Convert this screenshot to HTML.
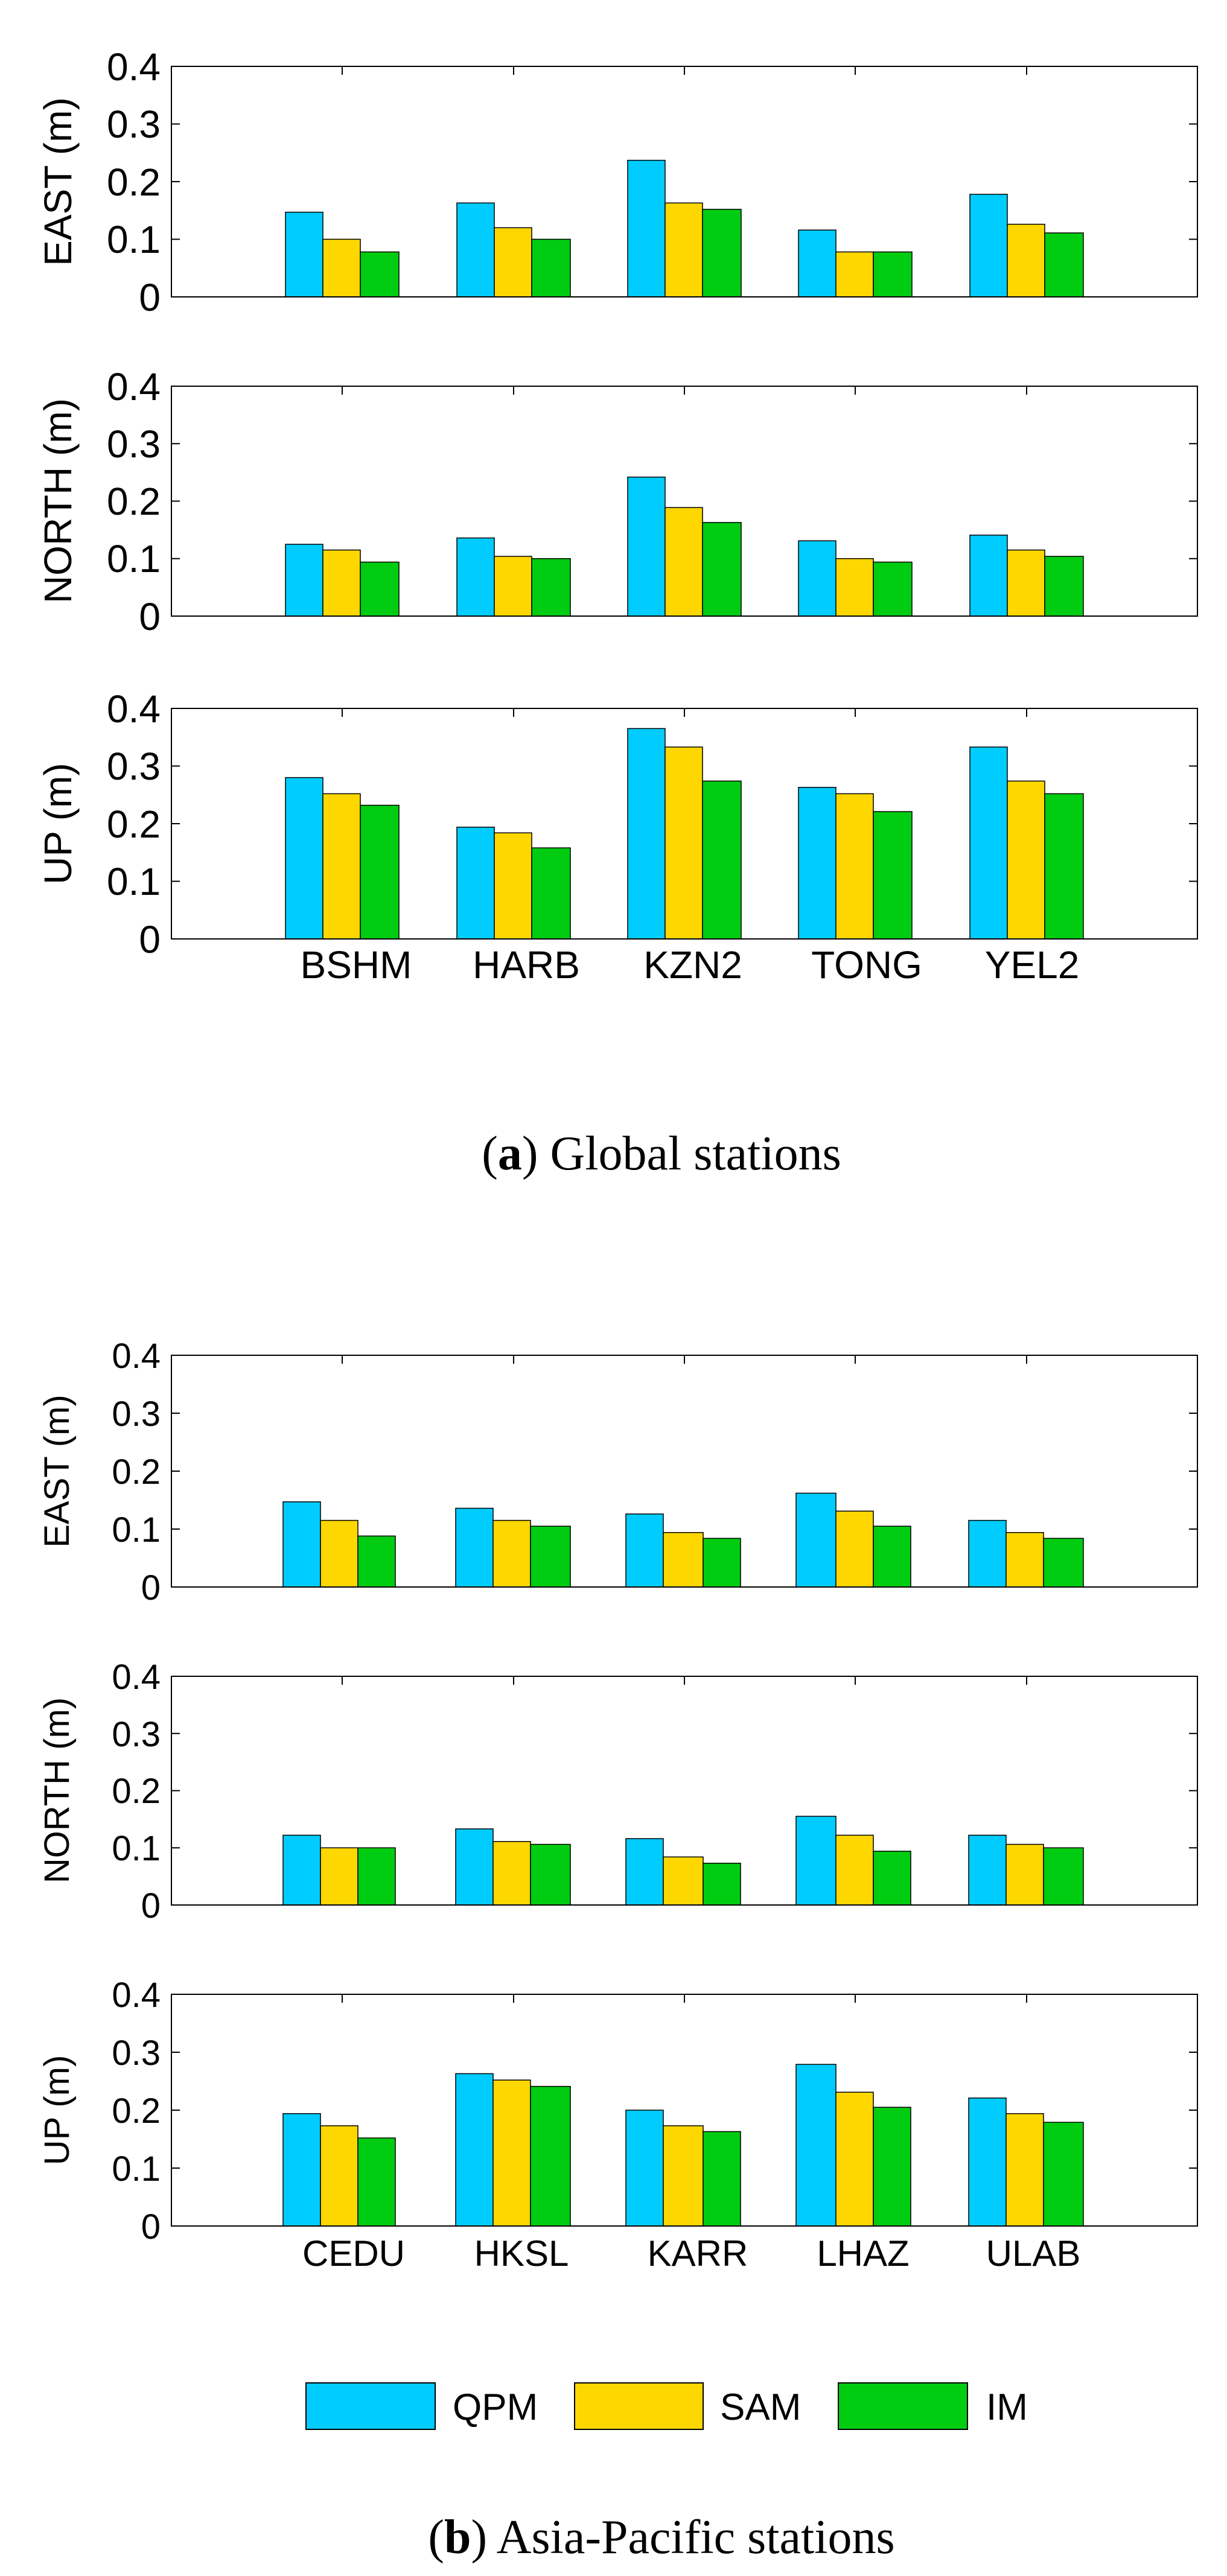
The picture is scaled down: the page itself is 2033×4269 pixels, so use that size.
<!DOCTYPE html>
<html><head><meta charset="utf-8"><style>
html,body{margin:0;padding:0;background:#fff;}
svg{display:block;}
text{font-family:"Liberation Sans",sans-serif;fill:#000;}
.s{font-family:"Liberation Serif",serif;}
rect.b{stroke:#000;stroke-width:1.5;}
.q{fill:#00CCFF}.y{fill:#FFD700}.g{fill:#00CC11}
</style></head><body>
<svg width="2033" height="4269" viewBox="0 0 2033 4269" xmlns="http://www.w3.org/2000/svg">
<defs>
<g id="ax">
<!-- frame and ticks drawn relative to top=0, height=H via separate groups -->
</g>
</defs>

<!-- ===== Panel a1 EAST ===== -->
<g>
<g transform="translate(0,492) scale(1,-955)">
<rect class="b q" vector-effect="non-scaling-stroke" x="473" y="0" width="62" height="0.147"/>
<rect class="b y" vector-effect="non-scaling-stroke" x="535" y="0" width="62" height="0.100"/>
<rect class="b g" vector-effect="non-scaling-stroke" x="597" y="0" width="64" height="0.078"/>
<rect class="b q" vector-effect="non-scaling-stroke" x="757" y="0" width="62" height="0.163"/>
<rect class="b y" vector-effect="non-scaling-stroke" x="819" y="0" width="62" height="0.120"/>
<rect class="b g" vector-effect="non-scaling-stroke" x="881" y="0" width="64" height="0.100"/>
<rect class="b q" vector-effect="non-scaling-stroke" x="1040" y="0" width="62" height="0.237"/>
<rect class="b y" vector-effect="non-scaling-stroke" x="1102" y="0" width="62" height="0.163"/>
<rect class="b g" vector-effect="non-scaling-stroke" x="1164" y="0" width="64" height="0.152"/>
<rect class="b q" vector-effect="non-scaling-stroke" x="1323" y="0" width="62" height="0.116"/>
<rect class="b y" vector-effect="non-scaling-stroke" x="1385" y="0" width="62" height="0.078"/>
<rect class="b g" vector-effect="non-scaling-stroke" x="1447" y="0" width="64" height="0.078"/>
<rect class="b q" vector-effect="non-scaling-stroke" x="1607" y="0" width="62" height="0.178"/>
<rect class="b y" vector-effect="non-scaling-stroke" x="1669" y="0" width="62" height="0.126"/>
<rect class="b g" vector-effect="non-scaling-stroke" x="1731" y="0" width="64" height="0.111"/>
</g>
<rect x="284" y="110" width="1700" height="382" fill="none" stroke="#000" stroke-width="2"/>
<path d="M284 396.5h14M284 301h14M284 205.5h14M1984 396.5h-14M1984 301h-14M1984 205.5h-14M567 110v14M851 110v14M1134 110v14M1417 110v14M1701 110v14" stroke="#000" stroke-width="2"/>
<g font-size="64" text-anchor="end">
<text x="266" y="515">0</text><text x="266" y="419">0.1</text><text x="266" y="324">0.2</text><text x="266" y="228">0.3</text><text x="266" y="133">0.4</text>
</g>
<text font-size="64" text-anchor="middle" transform="translate(118,301) rotate(-90)">EAST (m)</text>
</g>

<!-- ===== Panel a2 NORTH ===== -->
<g>
<g transform="translate(0,1021) scale(1,-952)">
<rect class="b q" vector-effect="non-scaling-stroke" x="473" y="0" width="62" height="0.125"/>
<rect class="b y" vector-effect="non-scaling-stroke" x="535" y="0" width="62" height="0.115"/>
<rect class="b g" vector-effect="non-scaling-stroke" x="597" y="0" width="64" height="0.094"/>
<rect class="b q" vector-effect="non-scaling-stroke" x="757" y="0" width="62" height="0.136"/>
<rect class="b y" vector-effect="non-scaling-stroke" x="819" y="0" width="62" height="0.104"/>
<rect class="b g" vector-effect="non-scaling-stroke" x="881" y="0" width="64" height="0.100"/>
<rect class="b q" vector-effect="non-scaling-stroke" x="1040" y="0" width="62" height="0.242"/>
<rect class="b y" vector-effect="non-scaling-stroke" x="1102" y="0" width="62" height="0.189"/>
<rect class="b g" vector-effect="non-scaling-stroke" x="1164" y="0" width="64" height="0.163"/>
<rect class="b q" vector-effect="non-scaling-stroke" x="1323" y="0" width="62" height="0.131"/>
<rect class="b y" vector-effect="non-scaling-stroke" x="1385" y="0" width="62" height="0.100"/>
<rect class="b g" vector-effect="non-scaling-stroke" x="1447" y="0" width="64" height="0.094"/>
<rect class="b q" vector-effect="non-scaling-stroke" x="1607" y="0" width="62" height="0.141"/>
<rect class="b y" vector-effect="non-scaling-stroke" x="1669" y="0" width="62" height="0.115"/>
<rect class="b g" vector-effect="non-scaling-stroke" x="1731" y="0" width="64" height="0.104"/>
</g>
<rect x="284" y="640" width="1700" height="381" fill="none" stroke="#000" stroke-width="2"/>
<path d="M284 925.75h14M284 830.5h14M284 735.25h14M1984 925.75h-14M1984 830.5h-14M1984 735.25h-14M567 640v14M851 640v14M1134 640v14M1417 640v14M1701 640v14" stroke="#000" stroke-width="2"/>
<g font-size="64" text-anchor="end">
<text x="266" y="1044">0</text><text x="266" y="948">0.1</text><text x="266" y="853">0.2</text><text x="266" y="758">0.3</text><text x="266" y="663">0.4</text>
</g>
<text font-size="64" text-anchor="middle" transform="translate(118,830) rotate(-90)">NORTH (m)</text>
</g>

<!-- ===== Panel a3 UP ===== -->
<g>
<g transform="translate(0,1556) scale(1,-955)">
<rect class="b q" vector-effect="non-scaling-stroke" x="473" y="0" width="62" height="0.280"/>
<rect class="b y" vector-effect="non-scaling-stroke" x="535" y="0" width="62" height="0.252"/>
<rect class="b g" vector-effect="non-scaling-stroke" x="597" y="0" width="64" height="0.232"/>
<rect class="b q" vector-effect="non-scaling-stroke" x="757" y="0" width="62" height="0.194"/>
<rect class="b y" vector-effect="non-scaling-stroke" x="819" y="0" width="62" height="0.184"/>
<rect class="b g" vector-effect="non-scaling-stroke" x="881" y="0" width="64" height="0.158"/>
<rect class="b q" vector-effect="non-scaling-stroke" x="1040" y="0" width="62" height="0.365"/>
<rect class="b y" vector-effect="non-scaling-stroke" x="1102" y="0" width="62" height="0.333"/>
<rect class="b g" vector-effect="non-scaling-stroke" x="1164" y="0" width="64" height="0.274"/>
<rect class="b q" vector-effect="non-scaling-stroke" x="1323" y="0" width="62" height="0.263"/>
<rect class="b y" vector-effect="non-scaling-stroke" x="1385" y="0" width="62" height="0.252"/>
<rect class="b g" vector-effect="non-scaling-stroke" x="1447" y="0" width="64" height="0.221"/>
<rect class="b q" vector-effect="non-scaling-stroke" x="1607" y="0" width="62" height="0.333"/>
<rect class="b y" vector-effect="non-scaling-stroke" x="1669" y="0" width="62" height="0.274"/>
<rect class="b g" vector-effect="non-scaling-stroke" x="1731" y="0" width="64" height="0.252"/>
</g>
<rect x="284" y="1174" width="1700" height="382" fill="none" stroke="#000" stroke-width="2"/>
<path d="M284 1460.5h14M284 1365h14M284 1269.5h14M1984 1460.5h-14M1984 1365h-14M1984 1269.5h-14M567 1174v14M851 1174v14M1134 1174v14M1417 1174v14M1701 1174v14" stroke="#000" stroke-width="2"/>
<g font-size="64" text-anchor="end">
<text x="266" y="1579">0</text><text x="266" y="1483">0.1</text><text x="266" y="1388">0.2</text><text x="266" y="1292">0.3</text><text x="266" y="1197">0.4</text>
</g>
<text font-size="64" text-anchor="middle" transform="translate(118,1365) rotate(-90)">UP (m)</text>
<g font-size="64" text-anchor="middle">
<text x="590" y="1621">BSHM</text><text x="872" y="1621">HARB</text><text x="1148" y="1621">KZN2</text><text x="1436" y="1621">TONG</text><text x="1710" y="1621">YEL2</text>
</g>
</g>

<text class="s" x="1096" y="1938" font-size="80" text-anchor="middle">(<tspan font-weight="bold">a</tspan>) Global stations</text>

<!-- ===== Panel b1 EAST ===== -->
<g>
<g transform="translate(0,2630) scale(1,-960)">
<rect class="b q" vector-effect="non-scaling-stroke" x="469" y="0" width="62" height="0.147"/>
<rect class="b y" vector-effect="non-scaling-stroke" x="531" y="0" width="62" height="0.115"/>
<rect class="b g" vector-effect="non-scaling-stroke" x="593" y="0" width="62" height="0.088"/>
<rect class="b q" vector-effect="non-scaling-stroke" x="755" y="0" width="62" height="0.136"/>
<rect class="b y" vector-effect="non-scaling-stroke" x="817" y="0" width="62" height="0.115"/>
<rect class="b g" vector-effect="non-scaling-stroke" x="879" y="0" width="66" height="0.105"/>
<rect class="b q" vector-effect="non-scaling-stroke" x="1037" y="0" width="62" height="0.126"/>
<rect class="b y" vector-effect="non-scaling-stroke" x="1099" y="0" width="66" height="0.094"/>
<rect class="b g" vector-effect="non-scaling-stroke" x="1165" y="0" width="62" height="0.084"/>
<rect class="b q" vector-effect="non-scaling-stroke" x="1319" y="0" width="66" height="0.162"/>
<rect class="b y" vector-effect="non-scaling-stroke" x="1385" y="0" width="62" height="0.131"/>
<rect class="b g" vector-effect="non-scaling-stroke" x="1447" y="0" width="62" height="0.105"/>
<rect class="b q" vector-effect="non-scaling-stroke" x="1605" y="0" width="62" height="0.115"/>
<rect class="b y" vector-effect="non-scaling-stroke" x="1667" y="0" width="62" height="0.094"/>
<rect class="b g" vector-effect="non-scaling-stroke" x="1729" y="0" width="66" height="0.084"/>
</g>
<rect x="284" y="2246" width="1700" height="384" fill="none" stroke="#000" stroke-width="2"/>
<path d="M284 2534h14M284 2438h14M284 2342h14M1984 2534h-14M1984 2438h-14M1984 2342h-14M567 2246v14M851 2246v14M1134 2246v14M1417 2246v14M1701 2246v14" stroke="#000" stroke-width="2"/>
<g font-size="58" text-anchor="end">
<text x="266" y="2651">0</text><text x="266" y="2555">0.1</text><text x="266" y="2459">0.2</text><text x="266" y="2363">0.3</text><text x="266" y="2267">0.4</text>
</g>
<text font-size="58" text-anchor="middle" transform="translate(114,2438) rotate(-90)">EAST (m)</text>
</g>

<!-- ===== Panel b2 NORTH ===== -->
<g>
<g transform="translate(0,3157) scale(1,-948)">
<rect class="b q" vector-effect="non-scaling-stroke" x="469" y="0" width="62" height="0.122"/>
<rect class="b y" vector-effect="non-scaling-stroke" x="531" y="0" width="62" height="0.100"/>
<rect class="b g" vector-effect="non-scaling-stroke" x="593" y="0" width="62" height="0.100"/>
<rect class="b q" vector-effect="non-scaling-stroke" x="755" y="0" width="62" height="0.133"/>
<rect class="b y" vector-effect="non-scaling-stroke" x="817" y="0" width="62" height="0.111"/>
<rect class="b g" vector-effect="non-scaling-stroke" x="879" y="0" width="66" height="0.106"/>
<rect class="b q" vector-effect="non-scaling-stroke" x="1037" y="0" width="62" height="0.116"/>
<rect class="b y" vector-effect="non-scaling-stroke" x="1099" y="0" width="66" height="0.084"/>
<rect class="b g" vector-effect="non-scaling-stroke" x="1165" y="0" width="62" height="0.073"/>
<rect class="b q" vector-effect="non-scaling-stroke" x="1319" y="0" width="66" height="0.155"/>
<rect class="b y" vector-effect="non-scaling-stroke" x="1385" y="0" width="62" height="0.122"/>
<rect class="b g" vector-effect="non-scaling-stroke" x="1447" y="0" width="62" height="0.094"/>
<rect class="b q" vector-effect="non-scaling-stroke" x="1605" y="0" width="62" height="0.122"/>
<rect class="b y" vector-effect="non-scaling-stroke" x="1667" y="0" width="62" height="0.106"/>
<rect class="b g" vector-effect="non-scaling-stroke" x="1729" y="0" width="66" height="0.100"/>
</g>
<rect x="284" y="2778" width="1700" height="379" fill="none" stroke="#000" stroke-width="2"/>
<path d="M284 3062.25h14M284 2967.5h14M284 2872.75h14M1984 3062.25h-14M1984 2967.5h-14M1984 2872.75h-14M567 2778v14M851 2778v14M1134 2778v14M1417 2778v14M1701 2778v14" stroke="#000" stroke-width="2"/>
<g font-size="58" text-anchor="end">
<text x="266" y="3178">0</text><text x="266" y="3083">0.1</text><text x="266" y="2988">0.2</text><text x="266" y="2894">0.3</text><text x="266" y="2799">0.4</text>
</g>
<text font-size="58" text-anchor="middle" transform="translate(114,2967) rotate(-90)">NORTH (m)</text>
</g>

<!-- ===== Panel b3 UP ===== -->
<g>
<g transform="translate(0,3689) scale(1,-960)">
<rect class="b q" vector-effect="non-scaling-stroke" x="469" y="0" width="62" height="0.194"/>
<rect class="b y" vector-effect="non-scaling-stroke" x="531" y="0" width="62" height="0.173"/>
<rect class="b g" vector-effect="non-scaling-stroke" x="593" y="0" width="62" height="0.152"/>
<rect class="b q" vector-effect="non-scaling-stroke" x="755" y="0" width="62" height="0.263"/>
<rect class="b y" vector-effect="non-scaling-stroke" x="817" y="0" width="62" height="0.252"/>
<rect class="b g" vector-effect="non-scaling-stroke" x="879" y="0" width="66" height="0.241"/>
<rect class="b q" vector-effect="non-scaling-stroke" x="1037" y="0" width="62" height="0.200"/>
<rect class="b y" vector-effect="non-scaling-stroke" x="1099" y="0" width="66" height="0.173"/>
<rect class="b g" vector-effect="non-scaling-stroke" x="1165" y="0" width="62" height="0.163"/>
<rect class="b q" vector-effect="non-scaling-stroke" x="1319" y="0" width="66" height="0.279"/>
<rect class="b y" vector-effect="non-scaling-stroke" x="1385" y="0" width="62" height="0.231"/>
<rect class="b g" vector-effect="non-scaling-stroke" x="1447" y="0" width="62" height="0.205"/>
<rect class="b q" vector-effect="non-scaling-stroke" x="1605" y="0" width="62" height="0.221"/>
<rect class="b y" vector-effect="non-scaling-stroke" x="1667" y="0" width="62" height="0.194"/>
<rect class="b g" vector-effect="non-scaling-stroke" x="1729" y="0" width="66" height="0.179"/>
</g>
<rect x="284" y="3305" width="1700" height="384" fill="none" stroke="#000" stroke-width="2"/>
<path d="M284 3593h14M284 3497h14M284 3401h14M1984 3593h-14M1984 3497h-14M1984 3401h-14M567 3305v14M851 3305v14M1134 3305v14M1417 3305v14M1701 3305v14" stroke="#000" stroke-width="2"/>
<g font-size="58" text-anchor="end">
<text x="266" y="3710">0</text><text x="266" y="3614">0.1</text><text x="266" y="3518">0.2</text><text x="266" y="3422">0.3</text><text x="266" y="3326">0.4</text>
</g>
<text font-size="58" text-anchor="middle" transform="translate(114,3497) rotate(-90)">UP (m)</text>
<g font-size="60" text-anchor="middle">
<text x="586" y="3755">CEDU</text><text x="864" y="3755">HKSL</text><text x="1156" y="3755">KARR</text><text x="1430" y="3755">LHAZ</text><text x="1712" y="3755">ULAB</text>
</g>
</g>

<!-- Legend -->
<rect x="507" y="3949" width="214" height="77" fill="#00CCFF" stroke="#000" stroke-width="2"/>
<rect x="952" y="3949" width="213" height="77" fill="#FFD700" stroke="#000" stroke-width="2"/>
<rect x="1389" y="3949" width="214" height="77" fill="#00CC11" stroke="#000" stroke-width="2"/>
<g font-size="62">
<text x="750" y="4010">QPM</text><text x="1193" y="4010">SAM</text><text x="1634" y="4010">IM</text>
</g>

<text class="s" x="1096" y="4231" font-size="80" text-anchor="middle">(<tspan font-weight="bold">b</tspan>) Asia-Pacific stations</text>
</svg>
</body></html>
